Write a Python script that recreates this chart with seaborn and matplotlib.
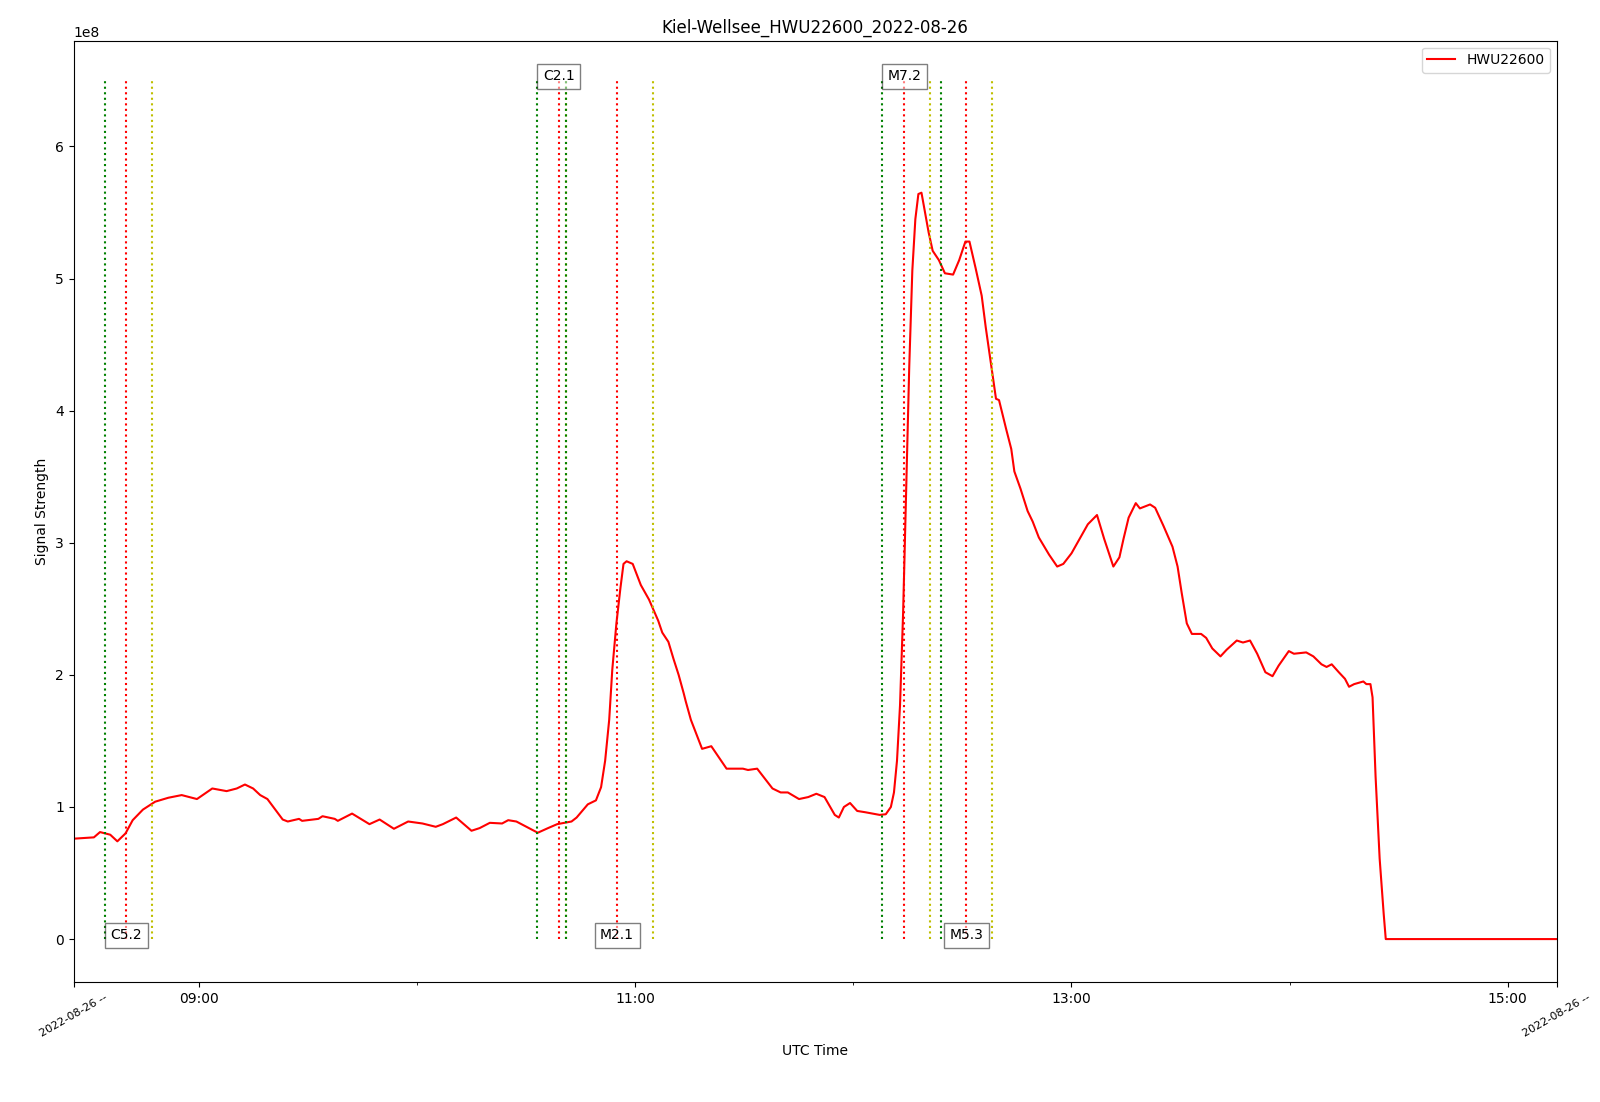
import numpy as np
import pandas as pd
import matplotlib
matplotlib.use("Agg")
import matplotlib.pyplot as plt
import matplotlib.dates as mdates
import matplotlib.ticker as mticker
import seaborn as sns

DATE = "2022-08-26"
STATION = "HWU22600"
TITLE = "Kiel-Wellsee_HWU22600_2022-08-26"

times = [
    "08:25:30", "08:31:05", "08:32:46", "08:35:35", "08:37:32", "08:39:47", "08:41:45", "08:44:34",
    "08:47:56", "08:51:35", "08:55:14", "08:59:26", "09:03:39", "09:07:35", "09:10:23", "09:12:38",
    "09:14:53", "09:16:50", "09:18:49", "09:23:01", "09:24:25", "09:27:31", "09:28:21", "09:32:50",
    "09:33:58", "09:37:20", "09:38:11", "09:42:06", "09:46:53", "09:49:41", "09:53:37", "09:57:32",
    "10:01:28", "10:05:07", "10:07:05", "10:10:44", "10:14:57", "10:17:11", "10:20:00", "10:23:22",
    "10:25:03", "10:27:18", "10:33:11", "10:36:00", "10:38:32", "10:42:28", "10:43:52", "10:46:57",
    "10:49:11", "10:50:36", "10:51:43", "10:52:50", "10:53:41", "10:54:49", "10:55:56", "10:56:46",
    "10:57:37", "10:59:18", "11:01:32", "11:03:47", "11:06:19", "11:07:26", "11:09:07", "11:10:32",
    "11:11:56", "11:13:20", "11:13:53", "11:15:18", "11:18:23", "11:20:55", "11:25:07", "11:29:37",
    "11:31:01", "11:33:32", "11:35:14", "11:37:45", "11:40:00", "11:41:58", "11:45:03", "11:47:35",
    "11:49:49", "11:52:04", "11:54:53", "11:56:00", "11:57:24", "11:59:05", "12:01:03", "12:03:18",
    "12:07:14", "12:08:55", "12:10:19", "12:11:10", "12:12:00", "12:12:50", "12:13:41", "12:14:32",
    "12:15:22", "12:16:13", "12:17:03", "12:17:53", "12:18:44", "12:19:35", "12:20:42", "12:21:49",
    "12:23:31", "12:25:11", "12:27:26", "12:29:07", "12:30:49", "12:31:56", "12:33:37", "12:35:18",
    "12:36:25", "12:37:49", "12:39:14", "12:40:04", "12:42:02", "12:43:26", "12:44:17", "12:45:58",
    "12:47:56", "12:49:20", "12:51:01", "12:53:50", "12:56:04", "12:57:45", "13:00:00", "13:02:15",
    "13:04:30", "13:07:01", "13:08:59", "13:11:31", "13:13:11", "13:14:19", "13:15:43", "13:17:41",
    "13:18:49", "13:21:37", "13:23:01", "13:25:16", "13:27:47", "13:29:11", "13:30:19", "13:31:43",
    "13:33:07", "13:35:39", "13:37:03", "13:38:44", "13:40:59", "13:42:40", "13:45:28", "13:47:10",
    "13:49:07", "13:51:05", "13:53:20", "13:55:18", "13:56:59", "13:59:47", "14:01:11", "14:04:34",
    "14:06:32", "14:08:46", "14:10:10", "14:11:35", "14:13:32", "14:15:14", "14:16:21", "14:17:45",
    "14:20:17", "14:21:07", "14:22:14", "14:22:49", "14:23:39", "14:24:46", "14:25:53", "14:26:27",
    "15:13:30",
]

signal_1e8 = [
    0.76, 0.77, 0.81, 0.79, 0.74, 0.80, 0.90, 0.98,
    1.04, 1.07, 1.09, 1.06, 1.14, 1.12, 1.14, 1.17,
    1.14, 1.09, 1.06, 0.905, 0.89, 0.91, 0.895, 0.91,
    0.93, 0.91, 0.895, 0.95, 0.87, 0.905, 0.835, 0.89,
    0.875, 0.85, 0.87, 0.92, 0.82, 0.84, 0.88, 0.875,
    0.90, 0.89, 0.805, 0.84, 0.87, 0.89, 0.92, 1.02,
    1.05, 1.15, 1.35, 1.66, 2.04, 2.39, 2.66, 2.84,
    2.86, 2.84, 2.68, 2.57, 2.41, 2.32, 2.25, 2.12,
    2.00, 1.86, 1.80, 1.66, 1.44, 1.46, 1.29, 1.29,
    1.28, 1.29, 1.23, 1.14, 1.11, 1.11, 1.06, 1.075,
    1.10, 1.075, 0.94, 0.92, 1.00, 1.03, 0.97, 0.96,
    0.94, 0.945, 1.00, 1.11, 1.35, 1.77, 2.47, 3.40,
    4.33, 5.06, 5.45, 5.64, 5.65, 5.52, 5.35, 5.21,
    5.14, 5.04, 5.03, 5.14, 5.28, 5.28, 5.08, 4.87,
    4.63, 4.36, 4.09, 4.08, 3.86, 3.71, 3.54, 3.41,
    3.24, 3.16, 3.04, 2.91, 2.82, 2.84, 2.92, 3.03,
    3.14, 3.21, 3.03, 2.82, 2.89, 3.03, 3.19, 3.30,
    3.26, 3.29, 3.265, 3.13, 2.97, 2.82, 2.62, 2.39,
    2.31, 2.31, 2.28, 2.20, 2.14, 2.19, 2.26, 2.245,
    2.26, 2.16, 2.02, 1.99, 2.07, 2.18, 2.16, 2.17,
    2.14, 2.08, 2.06, 2.08, 2.02, 1.97, 1.91, 1.93,
    1.95, 1.93, 1.93, 1.83, 1.23, 0.61, 0.19, 0.0,
    0.0,
]

flare_labels = ["C5.2", "C2.1", "M2.1", "M7.2", "M5.3"]
flare_start = ["08:34", "10:33", "10:41", "12:08", "12:24"]
flare_peak = ["08:40", "10:39", "10:55", "12:14", "12:31"]
flare_end = ["08:47", "10:41", "11:05", "12:21", "12:38"]
label_on_top = [False, True, False, True, False]

major_ticks = ["09:00", "11:00", "13:00", "15:00"]
minor_ticks = ["10:00", "12:00", "14:00"]
edge_label = "2022-08-26 --"

VLINE_TOP = 6.5e8
Y_LIMITS = (-0.324e8, 6.80e8)


def ts(hm):
    return pd.Timestamp(f"{DATE} {hm}")


df = pd.DataFrame({
    "time": [ts(t) for t in times],
    "signal": np.array(signal_1e8) * 1e8,
})

fig = plt.figure(figsize=(16, 11.02), dpi=100)
ax = fig.add_axes([0.046, 0.109, 0.927, 0.854])

sns.lineplot(data=df, x="time", y="signal", color="red", linewidth=1.5,
             label=STATION, ax=ax, estimator=None, sort=False)

for lab, s, p, e, top in zip(flare_labels, flare_start, flare_peak, flare_end, label_on_top):
    ax.vlines(ts(s), 0, VLINE_TOP, colors="g", linestyles=":", linewidth=1.5)
    ax.vlines(ts(p), 0, VLINE_TOP, colors="r", linestyles=":", linewidth=1.5)
    ax.vlines(ts(e), 0, VLINE_TOP, colors="y", linestyles=":", linewidth=1.5)
for lab, s, p, e, top in zip(flare_labels, flare_start, flare_peak, flare_end, label_on_top):
    ax.text(ts(p), VLINE_TOP if top else 0, lab, ha="center", va="baseline", fontsize=10,
            bbox=dict(facecolor="white", alpha=0.5), zorder=5)

x0 = mdates.date2num(df["time"].iloc[0])
x1 = mdates.date2num(df["time"].iloc[-1])
ax.set_xlim(x0, x1)
ax.set_ylim(*Y_LIMITS)

maj = [x0] + [mdates.date2num(ts(t)) for t in major_ticks] + [x1]
ax.xaxis.set_major_locator(mticker.FixedLocator(maj))
ax.xaxis.set_major_formatter(mticker.FixedFormatter([edge_label] + major_ticks + [edge_label]))
ax.xaxis.set_minor_locator(mticker.FixedLocator([mdates.date2num(ts(t)) for t in minor_ticks]))
ax.xaxis.set_minor_formatter(mticker.NullFormatter())
ticks = ax.xaxis.get_major_ticks()
for i in (0, len(maj) - 1):
    ticks[i].label1.set_rotation(30)
    ticks[i].label1.set_fontsize(8)

ax.set_title(TITLE, fontsize=12)
ax.set_xlabel("UTC Time")
ax.set_ylabel("Signal Strength")
ax.legend(loc="upper right")

fig.savefig("out.png", dpi=100)
